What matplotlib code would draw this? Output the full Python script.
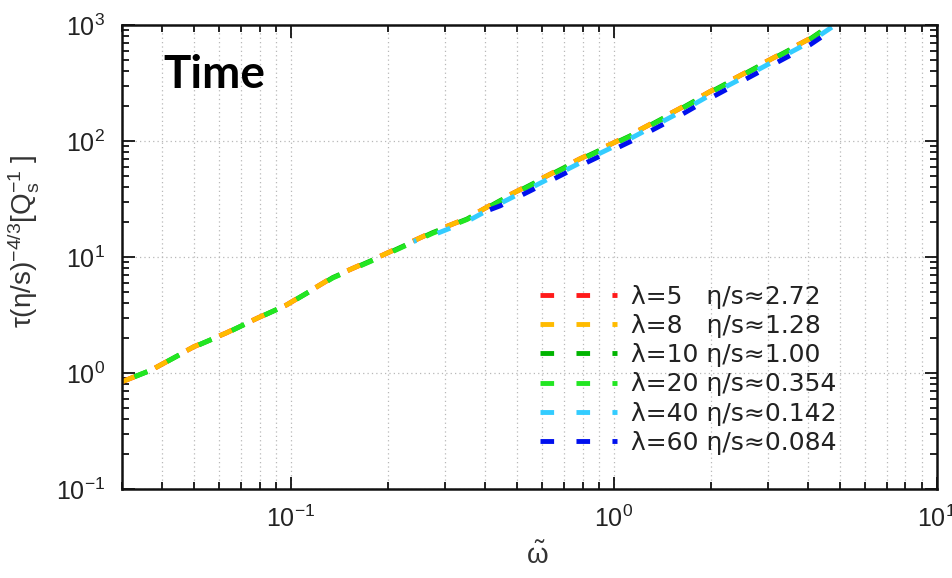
import matplotlib
matplotlib.use('Agg')
import matplotlib.pyplot as plt
from matplotlib.lines import Line2D
from matplotlib.ticker import LogLocator, NullFormatter

plt.rcParams['font.family'] = ['Liberation Sans', 'DejaVu Sans']
plt.rcParams['mathtext.fontset'] = 'custom'
plt.rcParams['mathtext.rm'] = 'Liberation Sans'
plt.rcParams['mathtext.it'] = 'Liberation Sans'
plt.rcParams['mathtext.default'] = 'regular'

# values (log-log)
x_l5 = [0.030, 0.037, 0.050, 0.063, 0.079, 0.097, 0.120, 0.135, 0.193, 0.275, 0.351, 0.444, 0.550, 0.785, 1.12, 1.60, 1.98, 2.83, 4.04, 4.67]
y_l5 = [0.84, 1.06, 1.68, 2.21, 2.98, 3.86, 5.5, 6.7, 10.4, 16.4, 21.5, 31.0, 42.0, 70.0, 112.0, 190.0, 265.0, 450.0, 760.0, 1000.0]
x_l8 = [0.030, 0.037, 0.050, 0.063, 0.079, 0.097, 0.120, 0.135, 0.193, 0.275, 0.351, 0.444, 0.550, 0.785, 1.12, 1.60, 1.98, 2.83, 4.04, 4.67]
y_l8 = [0.84, 1.06, 1.68, 2.21, 2.98, 3.86, 5.5, 6.7, 10.4, 16.4, 21.5, 31.0, 42.0, 70.0, 112.0, 190.0, 265.0, 450.0, 760.0, 1000.0]
x_l10 = [0.030, 0.037, 0.050, 0.063, 0.079, 0.097, 0.120, 0.135, 0.193, 0.275, 0.351, 0.444, 0.550, 0.785, 1.12, 1.60, 1.98, 2.83, 4.04, 4.70]
y_l10 = [0.84, 1.06, 1.67, 2.20, 2.97, 3.85, 5.45, 6.65, 10.3, 16.2, 21.2, 30.5, 41.5, 69.0, 110.0, 187.0, 261.0, 445.0, 752.0, 1000.0]
x_l20 = [0.030, 0.037, 0.050, 0.063, 0.079, 0.097, 0.120, 0.135, 0.193, 0.275, 0.351, 0.444, 0.550, 0.785, 1.12, 1.60, 1.98, 2.83, 4.04, 4.72]
y_l20 = [0.84, 1.06, 1.67, 2.20, 2.97, 3.85, 5.45, 6.6, 10.2, 16.0, 21.0, 30.2, 41.0, 68.0, 109.0, 185.0, 258.0, 440.0, 745.0, 1000.0]
x_l40 = [0.24, 0.275, 0.351, 0.444, 0.550, 0.785, 1.12, 1.60, 1.98, 2.83, 4.04, 4.85]
y_l40 = [13.6, 15.4, 20.2, 28.8, 39.0, 64.5, 104.0, 176.0, 247.0, 418.0, 710.0, 1000.0]
x_l60 = [0.39, 0.444, 0.550, 0.785, 1.12, 1.60, 1.98, 2.83, 4.04, 5.0]
y_l60 = [24.0, 27.5, 37.0, 61.0, 98.0, 165.0, 232.0, 395.0, 670.0, 1000.0]

labels = ['λ=5   η/s≈2.72', 'λ=8   η/s≈1.28', 'λ=10 η/s≈1.00',
          'λ=20 η/s≈0.354', 'λ=40 η/s≈0.142', 'λ=60 η/s≈0.084']
colors = ['#ff1a1a', '#ffbb00', '#00b400', '#22e622', '#33ccff', '#0010ee']
offsets = [0.0, 0.0, 4.6, 4.6, 2.2, 5.6]

series = [(x_l5, y_l5), (x_l8, y_l8), (x_l10, y_l10),
          (x_l20, y_l20), (x_l40, y_l40), (x_l60, y_l60)]

LW = 3.5
DASH = (2.8, 4.6)

fig = plt.figure(figsize=(9.53, 5.78), dpi=100)
ax = fig.add_axes([0.128, 0.154, 0.855, 0.803])

for (x, y), c, off in zip(series, colors, offsets):
    ax.plot(x, y, color=c, lw=LW, linestyle=(off, DASH), dash_capstyle='butt')

ax.set_xscale('log')
ax.set_yscale('log')
ax.set_xlim(0.03, 10)
ax.set_ylim(0.1, 1000)

ax.xaxis.set_minor_locator(LogLocator(base=10, subs=range(2, 10), numticks=20))
ax.yaxis.set_minor_locator(LogLocator(base=10, subs=range(2, 10), numticks=20))
ax.xaxis.set_minor_formatter(NullFormatter())
ax.yaxis.set_minor_formatter(NullFormatter())

ax.grid(True, which='major', axis='both', color='#b8b8b8', linestyle=(0, (1, 2.5)), lw=0.9)
ax.grid(True, which='minor', axis='x', color='#b8b8b8', linestyle=(0, (1, 2.5)), lw=0.9)

ax.tick_params(which='both', direction='in', top=True, right=True, width=1.3, color='#111111')
ax.tick_params(which='major', length=9, labelsize=18, pad=12, labelcolor='#222222')
ax.tick_params(which='minor', length=5)
for s in ax.spines.values():
    s.set_linewidth(1.8)
    s.set_color('#111111')

ax.set_xlabel(r'$\tilde{\omega}$', fontsize=20, color='#333333')
ax.xaxis.set_label_coords(0.51, -0.115)
ax.set_ylabel(r'$\tau(\eta/s)^{-4/3}[Q_s^{-1}\ ]$', fontsize=20, color='#333333')
ax.yaxis.set_label_coords(-0.1, 0.535)

handles = [Line2D([], [], color=c, lw=LW, linestyle=(0, DASH), dash_capstyle='butt')
           for c in colors]
leg = fig.legend(handles, labels, loc='upper left', bbox_to_anchor=(0.556, 0.525),
                 bbox_transform=fig.transFigure, frameon=False,
                 prop={'family': 'DejaVu Sans', 'size': 18},
                 handlelength=3.1, handletextpad=0.55, labelspacing=0.21,
                 borderaxespad=0, borderpad=0.4)
for t in leg.get_texts():
    t.set_color('#222222')

fig.text(163 / 953, (578 - 88) / 578, 'Time', fontsize=33, fontweight='bold',
         family='Lato', va='baseline', ha='left')

fig.savefig('out.png', dpi=100)
